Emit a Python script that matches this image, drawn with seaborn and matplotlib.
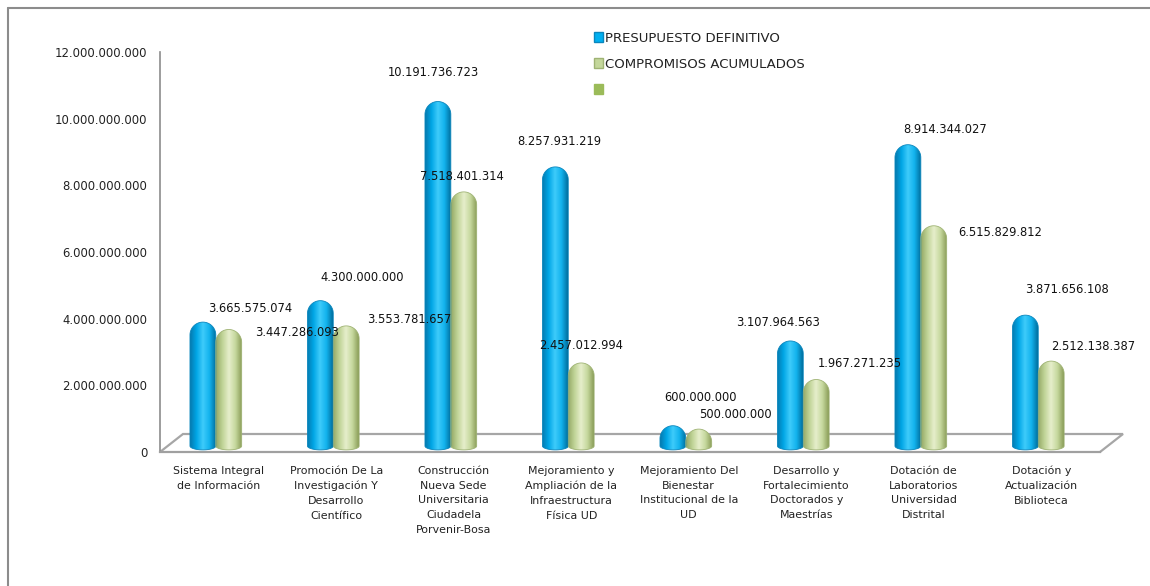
import numpy as np
import pandas as pd
import seaborn as sns
from matplotlib import pyplot as plt
from matplotlib.patches import PathPatch, Patch, Polygon
from matplotlib.path import Path
from matplotlib.lines import Line2D
from matplotlib.transforms import Affine2D
from matplotlib.colors import LinearSegmentedColormap
from matplotlib.ticker import FuncFormatter, FixedLocator

# data
categorias = [
    "Sistema Integral\nde Información",
    "Promoción De La\nInvestigación Y\nDesarrollo\nCientífico",
    "Construcción\nNueva Sede\nUniversitaria\nCiudadela\nPorvenir-Bosa",
    "Mejoramiento y\nAmpliación de la\nInfraestructura\nFísica UD",
    "Mejoramiento Del\nBienestar\nInstitucional de la\nUD",
    "Desarrollo y\nFortalecimiento\nDoctorados y\nMaestrías",
    "Dotación de\nLaboratorios\nUniversidad\nDistrital",
    "Dotación y\nActualización\nBiblioteca",
]
presupuesto = [3665575074, 4300000000, 10191736723, 8257931219,
               600000000, 3107964563, 8914344027, 3871656108]
compromisos = [3447286093, 3553781657, 7518401314, 2457012994,
               500000000, 1967271235, 6515829812, 2512138387]
series = ["PRESUPUESTO DEFINITIVO", "COMPROMISOS ACUMULADOS"]
yticks = [0, 2e9, 4e9, 6e9, 8e9, 10e9, 12e9]

# where excel put each data label, pixel offset from the bar top (dx, dy)
off_pres = [(47, 14), (42, 23), (-4, 29), (4, 25), (28, 28), (-12, 18), (37, 15), (42, 26)]
off_comp = [(68, -3), (63, 6), (-2, 15), (0, 17), (37, 15), (44, 16), (66, -7), (42, 15)]

def miles(v, _=None):
    return f"{v:,.0f}".replace(",", ".")

sns.set_style("white")
plt.rcParams['font.family'] = ['DejaVu Sans']

fig = plt.figure(figsize=(11.5, 5.86), dpi=100)
ax = fig.add_axes([160 / 1150, 1 - 452 / 586, 940 / 1150, 400 / 586])

df = pd.DataFrame({
    "categoria": categorias * 2,
    "serie": [series[0]] * 8 + [series[1]] * 8,
    "valor": presupuesto + compromisos,
})
sns.barplot(data=df, x="categoria", y="valor", hue="serie", ax=ax,
            palette=["#00b0f0", "#c4d79b"], width=0.44, gap=0,
            saturation=1, legend=False, errorbar=None)

ax.set_xlim(-0.5, 7.5)
ax.set_ylim(0, 12e9)

cmaps = [
    LinearSegmentedColormap.from_list("b", ["#0679ad", "#00a6e6", "#3ecbfa", "#12b3ee", "#006f9f"]),
    LinearSegmentedColormap.from_list("g", ["#94a866", "#c0d497", "#e6eecb", "#c6d89e", "#8a9d58"]),
]
edges = ["#0a86bd", "#9fb374"]
offsets = [off_pres, off_comp]

# the bars stand on the back of the 3d floor: slightly taller scale, 6 px higher
bar_tr = Affine2D().scale(1, 1.014) + ax.transData + Affine2D().translate(0, 6)

fig.canvas.draw()
px_y = bar_tr.transform([(0, 0), (0, 1e9)])
px_per_unit_y = (px_y[1, 1] - px_y[0, 1]) / 1e9
px_x = ax.transData.transform([(0, 0), (1, 0)])
px_per_unit_x = px_x[1, 0] - px_x[0, 0]

gradient = np.linspace(0, 1, 200).reshape(1, -1)
for k, cont in enumerate(ax.containers):
    for i, p in enumerate(cont.patches):
        val = p.get_height()
        w = p.get_width()
        x0 = p.get_x() - 0.025
        xc = x0 + w / 2
        ry_t = (w * px_per_unit_x / 2) / px_per_unit_y
        ry_b = ry_t * 0.3
        p.set_visible(False)
        t1 = np.linspace(np.pi, 2 * np.pi, 30)
        t2 = np.linspace(0, np.pi, 40)
        xs = np.concatenate([xc + w / 2 * np.cos(t1), xc + w / 2 * np.cos(t2)])
        ys = np.concatenate([ry_b * np.sin(t1), (val - ry_t) + ry_t * np.sin(t2)])
        verts = np.column_stack([xs, ys])
        verts = np.vstack([verts, verts[:1]])
        path = Path(verts, [Path.MOVETO] + [Path.LINETO] * (len(verts) - 2) + [Path.CLOSEPOLY])
        pp = PathPatch(path, facecolor="none", edgecolor=edges[k], lw=0.6, zorder=3,
                       transform=bar_tr, clip_on=False)
        ax.add_patch(pp)
        im = ax.imshow(gradient, cmap=cmaps[k], extent=(x0, x0 + w, -ry_b, val),
                       aspect="auto", origin="lower", zorder=2)
        im.set_transform(bar_tr)
        im.set_clip_path(pp)
        dx, dy = offsets[k][i]
        ax.annotate(miles(val), (xc, val), xycoords=bar_tr, xytext=(dx, dy),
                    textcoords="offset pixels", ha="center", va="center",
                    fontsize=8.3, color="#111111", zorder=5)

ax.set_xlim(-0.5, 7.5)
ax.set_ylim(0, 12e9)

# axes styling
ax.yaxis.set_major_locator(FixedLocator(yticks))
ax.yaxis.set_major_formatter(FuncFormatter(miles))
ax.tick_params(axis="y", direction="inout", length=6, width=1, color="#8c8c8c",
               labelsize=8.4, labelcolor="#222222", pad=6)
ax.set_xticks(range(8))
ax.set_xticklabels(categorias, fontsize=7.9, color="#222222", linespacing=1.6,
                   va="top")
ax.tick_params(axis="x", length=0, pad=10)
ax.set_xticks(np.arange(0.5, 8, 1), minor=True)
ax.tick_params(axis="x", which="minor", direction="out", length=5, width=1, color="#8c8c8c")
ax.set_xlabel("")
ax.set_ylabel("")
for s in ["top", "right"]:
    ax.spines[s].set_visible(False)
ax.spines["left"].set_color("#8c8c8c")
ax.spines["left"].set_linewidth(1.2)
ax.spines["bottom"].set_color("#a0a0a0")
ax.spines["bottom"].set_linewidth(1.6)

# 3d floor of the excel chart
floor = Polygon([(0, 0), (23 / 940, 18 / 400), (963 / 940, 18 / 400), (1, 0)],
                closed=False, transform=ax.transAxes, fill=False,
                edgecolor="#a6a6a6", lw=1.6, clip_on=False, zorder=1)
ax.add_patch(floor)

# legend
handles = [Patch(facecolor="#00b0f0", edgecolor="#0a86bd"),
           Patch(facecolor="#c4d79b", edgecolor="#9fb374"),
           Patch(facecolor="#9bbb59", edgecolor="#9bbb59")]
fig.legend(handles, series + [""], loc="upper left",
           bbox_to_anchor=(587 / 1150, 1 - 25 / 586), frameon=False,
           fontsize=9.5, handlelength=0.7, handleheight=0.8, handletextpad=0.15,
           labelspacing=1.0, borderpad=0, labelcolor="#222222")

# chart border (top and left edges visible in the screenshot)
fig.add_artist(Line2D([8 / 1150, 8 / 1150], [0, 1 - 8 / 586], transform=fig.transFigure,
                      color="#8c8c8c", lw=1.5))
fig.add_artist(Line2D([8 / 1150, 1], [1 - 8 / 586, 1 - 8 / 586], transform=fig.transFigure,
                      color="#8c8c8c", lw=1.5))

plt.savefig("out.png", dpi=100)
